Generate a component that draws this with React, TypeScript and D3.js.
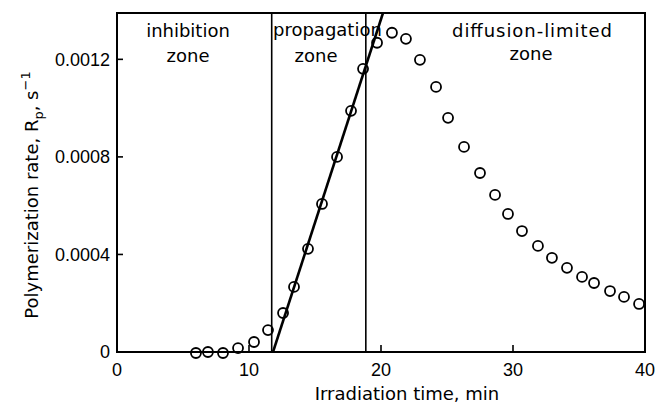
import React from "react";
import * as d3 from "d3";

const times = [5.98, 6.89, 8.03, 9.17, 10.38, 11.44, 12.58, 13.41, 14.47, 15.53, 16.67, 17.73, 18.64, 19.7, 20.83, 21.89, 22.95, 24.17, 25.08, 26.29, 27.5, 28.64, 29.62, 30.68, 31.89, 32.95, 34.09, 35.23, 36.14, 37.35, 38.41, 39.55];
const rates = [-0.000004, 0, -0.000004, 0.000016, 0.000041, 0.00009, 0.00016, 0.000267, 0.000423, 0.000607, 0.0008, 0.000989, 0.001161, 0.001268, 0.001309, 0.001284, 0.001198, 0.001087, 0.00096, 0.000841, 0.000734, 0.000644, 0.000566, 0.000496, 0.000435, 0.000386, 0.000345, 0.000308, 0.000283, 0.00025, 0.000226, 0.000197];
const fitTimes = [11.82, 20.15];
const fitRates = [0, 0.00139];
const zoneBounds = [11.72, 18.85];
const xTicks = [0, 10, 20, 30, 40];
const yTicks = [0, 0.0004, 0.0008, 0.0012];
const yTickLabels = ["0", "0.0004", "0.0008", "0.0012"];

export default function App() {
  const W = 655, H = 405;
  const left = 117, right = 645, top = 13, bottom = 352;
  const x = d3.scaleLinear().domain([0, 40]).range([left, right]);
  const y = d3.scaleLinear().domain([0, 0.00139]).range([bottom, top]);
  const fitPath = d3.line<number>().x((t) => x(t)).y((_, i) => y(fitRates[i]))(fitTimes) || "";
  const tickFont = "'Liberation Sans', Arial, sans-serif";
  const textFont = "'DejaVu Sans', sans-serif";
  return (
    <svg width={W} height={H} style={{ position: "absolute", left: 0, top: 0, background: "#fff" }}>
      <defs>
        <clipPath id="plotclip">
          <rect x={left} y={top} width={right - left} height={bottom - top} />
        </clipPath>
      </defs>
      <rect x={0} y={0} width={W} height={H} fill="#fff" />
      {/* zone boundaries */}
      {zoneBounds.map((t, i) => (
        <line key={i} x1={x(t)} x2={x(t)} y1={top} y2={bottom} stroke="#000" strokeWidth={1.6} />
      ))}
      {/* fit line */}
      <path d={fitPath} stroke="#000" strokeWidth={2.6} fill="none" clipPath="url(#plotclip)" />
      {/* points */}
      {times.map((t, i) => (
        <circle key={i} cx={x(t)} cy={y(rates[i])} r={5} fill="none" stroke="#000" strokeWidth={1.8} />
      ))}
      {/* frame */}
      <rect x={left} y={top} width={right - left} height={bottom - top} fill="none" stroke="#000" strokeWidth={2} />
      {/* y ticks */}
      {yTicks.map((v, i) => (
        <g key={i}>
          {i > 0 && <line x1={left} x2={left + 6} y1={y(v)} y2={y(v)} stroke="#000" strokeWidth={1.6} />}
          <text x={left - 7} y={y(v)} dy="0.36em" textAnchor="end" fontFamily={tickFont} fontSize={18}>{yTickLabels[i]}</text>
        </g>
      ))}
      {/* x ticks */}
      {xTicks.map((t, i) => (
        <g key={i}>
          {i > 0 && i < xTicks.length - 1 && <line x1={x(t)} x2={x(t)} y1={bottom} y2={bottom - 7} stroke="#000" strokeWidth={1.6} />}
          <text x={x(t)} y={376} textAnchor="middle" fontFamily={tickFont} fontSize={18}>{t}</text>
        </g>
      ))}
      {/* axis titles */}
      <text x={407} y={400} textAnchor="middle" fontFamily={textFont} fontSize={18}>Irradiation time, min</text>
      <text transform="translate(38,195) rotate(-90)" textAnchor="middle" fontFamily={textFont} fontSize={18}>
        Polymerization rate, R<tspan fontSize={13} dy={5}>p</tspan><tspan dy={-5}>, s</tspan><tspan fontSize={13} dy={-8}>−1</tspan>
      </text>
      {/* zone labels */}
      <text x={188} y={37} textAnchor="middle" fontFamily={textFont} fontSize={18}>inhibition</text>
      <text x={188} y={62} textAnchor="middle" fontFamily={textFont} fontSize={18}>zone</text>
      <text x={273} y={36} textAnchor="start" fontFamily={textFont} fontSize={18}>propagation</text>
      <text x={316} y={62} textAnchor="middle" fontFamily={textFont} fontSize={18}>zone</text>
      <text x={532} y={37} textAnchor="middle" fontFamily={textFont} fontSize={18} textLength={160}>diffusion-limited</text>
      <text x={531} y={60} textAnchor="middle" fontFamily={textFont} fontSize={18}>zone</text>
    </svg>
  );
}
